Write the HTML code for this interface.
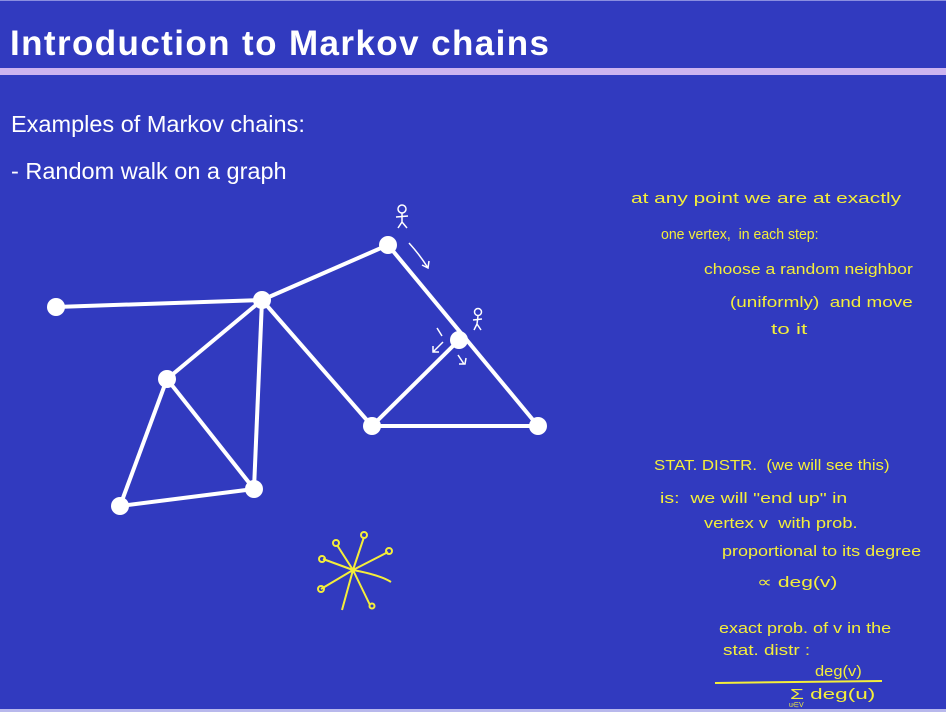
<!DOCTYPE html>
<html><head><meta charset="utf-8"><style>
html,body{margin:0;padding:0}
body{width:946px;height:712px;background:#313abf;position:relative;overflow:hidden;font-family:"Liberation Sans",sans-serif}
.hdr{position:absolute;left:0;top:0;width:946px;height:68px;background:#313abf;border-top:1px solid #8a8ee0}
.stripe{position:absolute;left:0;top:68px;width:946px;height:7px;background:#cdb4f0}
.title{position:absolute;left:10px;top:24px;color:#fff;font-size:35px;font-weight:bold;letter-spacing:1.4px}
.t{position:absolute;color:#fff;font-size:23.5px}
.h{position:absolute;color:#f4ee3a;font-size:15px;font-family:"Liberation Sans",sans-serif;white-space:nowrap;transform-origin:0 50%}
.bot{position:absolute;left:0;top:709px;width:946px;height:3px;background:#b8b8ec}
</style></head><body>
<div class="hdr"></div><div class="stripe"></div>
<div class="title">Introduction to Markov chains</div>
<div class="t" style="left:11px;top:111px">Examples of Markov chains:</div>
<div class="t" style="left:11px;top:158px">- Random walk on a graph</div>
<svg width="946" height="712" style="position:absolute;left:0;top:0">
<g stroke="#fff" stroke-width="4" fill="none">
<line x1="56" y1="307" x2="262" y2="300"/><line x1="262" y1="300" x2="388" y2="245"/>
<line x1="388" y1="245" x2="538" y2="426"/><line x1="459" y1="340" x2="372" y2="426"/>
<line x1="372" y1="426" x2="538" y2="426"/><line x1="262" y1="300" x2="372" y2="426"/>
<line x1="262" y1="300" x2="167" y2="379"/><line x1="262" y1="300" x2="254" y2="489"/>
<line x1="167" y1="379" x2="120" y2="506"/><line x1="167" y1="379" x2="254" y2="489"/>
<line x1="120" y1="506" x2="254" y2="489"/>
</g>
<g fill="#fff">
<circle cx="56" cy="307" r="9"/><circle cx="262" cy="300" r="9"/><circle cx="388" cy="245" r="9"/>
<circle cx="459" cy="340" r="9"/><circle cx="372" cy="426" r="9"/><circle cx="538" cy="426" r="9"/>
<circle cx="167" cy="379" r="9"/><circle cx="254" cy="489" r="9"/><circle cx="120" cy="506" r="9"/>
</g>
<g stroke="#fff" stroke-width="1.5" fill="none">
<circle cx="402" cy="209" r="4"/><path d="M402 213 L402 222 M396 217 L408 216 M402 222 L398 228 M402 222 L407 228"/>
<circle cx="478" cy="312" r="3.5"/><path d="M478 316 L477 324 M473 320 L482 319 M477 324 L474 330 M477 324 L481 330"/>
<path d="M409 243 Q420 255 428 268 M422 265 L428 268 L429 261"/>
<path d="M437 328 L442 336 M443 342 L433 352 M433 346 L433 352 L439 352"/>
<path d="M458 355 L464 364 M459 364 L465 364 L466 358"/>
</g>
<g stroke="#f4ee3a" stroke-width="2" fill="none">
<path d="M353 570 L337 545 M353 570 L364 537 M353 570 L388 552 M353 570 L323 559 M353 570 Q380 575 391 582 M353 570 L321 589 M353 570 L342 610 M353 570 L370 605"/>
<circle cx="336" cy="543" r="3"/><circle cx="364" cy="535" r="3"/><circle cx="389" cy="551" r="3"/><circle cx="322" cy="559" r="3"/><circle cx="321" cy="589" r="3"/><circle cx="372" cy="606" r="2.5"/>
<line x1="715" y1="683" x2="882" y2="681"/>
</g>
</svg>
<div class="h" style="left:631px;top:190px;transform:scaleX(1.39)">at any point we are at exactly</div>
<div class="h" style="left:661px;top:226px;transform:scaleX(0.94)">one vertex,&nbsp; in each step:</div>
<div class="h" style="left:704px;top:261px;transform:scaleX(1.17)">choose a random neighbor</div>
<div class="h" style="left:730px;top:294px;transform:scaleX(1.26)">(uniformly)&nbsp; and move</div>
<div class="h" style="left:771px;top:321px;transform:scaleX(1.5)">to it</div>
<div class="h" style="left:654px;top:457px;transform:scaleX(1.12)">STAT. DISTR.&nbsp; (we will see this)</div>
<div class="h" style="left:660px;top:490px;transform:scaleX(1.3)">is:&nbsp; we will "end up" in</div>
<div class="h" style="left:704px;top:515px;transform:scaleX(1.22)">vertex v&nbsp; with prob.</div>
<div class="h" style="left:722px;top:543px;transform:scaleX(1.2)">proportional to its degree</div>
<div class="h" style="left:757px;top:573px;transform:scaleX(1.4)">∝ deg(v)</div>
<div class="h" style="left:719px;top:620px;transform:scaleX(1.2)">exact prob. of v in the</div>
<div class="h" style="left:723px;top:642px;transform:scaleX(1.26)">stat. distr :</div>
<div class="h" style="left:815px;top:663px;transform:scaleX(1.1)">deg(v)</div>
<div class="h" style="left:790px;top:686px;transform:scaleX(1.5)">Σ deg(u)</div>
<div class="h" style="left:789px;top:701px;font-size:7px">u∈V</div>
<div class="bot"></div>
</body></html>
